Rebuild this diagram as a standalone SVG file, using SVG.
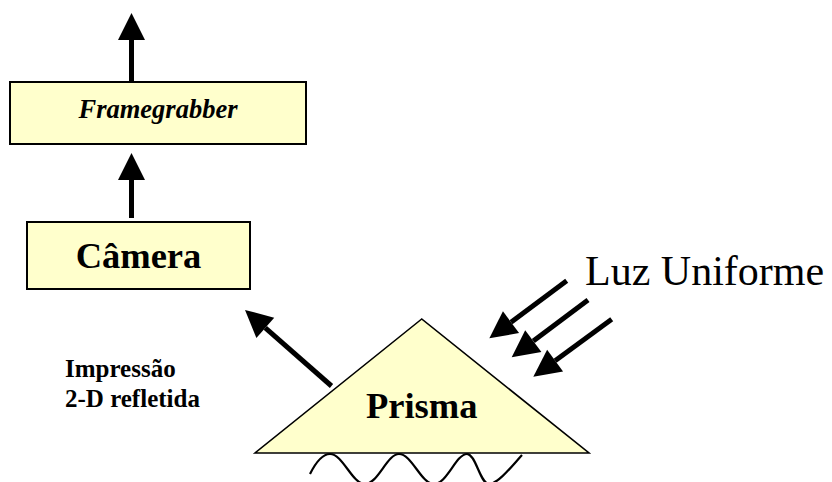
<svg xmlns="http://www.w3.org/2000/svg" width="832" height="482" viewBox="0 0 832 482">
  <defs>
    <marker id="head" markerUnits="userSpaceOnUse" markerWidth="28" markerHeight="28" refX="0" refY="13.5" orient="auto" overflow="visible">
      <path d="M0,0 L27,13.5 L0,27 z" fill="#000"/>
    </marker>
    <style>
      .box { fill: #FFFFCC; stroke: #000; stroke-width: 2; }
      .arrow { stroke: #000; stroke-width: 5; fill: none; marker-end: url(#head); }
      .serif { font-family: "Liberation Serif", "Times New Roman", serif; fill: #000; }
      .bold { font-weight: bold; }
    </style>
  </defs>
  <rect width="832" height="482" fill="#fff"/>

  <!-- connectors -->
  <g id="connectors">
    <line class="arrow" x1="131.5" y1="82" x2="131.5" y2="40"/>
    <line class="arrow" x1="131.5" y1="218" x2="131.5" y2="180"/>
    <line class="arrow" x1="331.5" y1="386" x2="265.3" y2="327.8"/>
    <line class="arrow" x1="566.7" y1="280.7" x2="511" y2="322.2"/>
    <line class="arrow" x1="588" y1="300" x2="533.3" y2="341.1"/>
    <line class="arrow" x1="611.7" y1="319.3" x2="555.1" y2="360.7"/>
  </g>

  <g id="framegrabber">
    <rect class="box" x="10" y="82" width="296" height="62"/>
    <text class="serif bold" x="158" y="117.5" font-size="26.5" font-style="italic" text-anchor="middle">Framegrabber</text>
  </g>

  <g id="camera">
    <rect class="box" x="27" y="222" width="223" height="67"/>
    <text class="serif bold" x="138.5" y="268.3" font-size="36.5" text-anchor="middle">Câmera</text>
  </g>

  <g id="prisma">
    <polygon points="421.7,319 255,453 589,453" fill="#FFFFCC" stroke="#000" stroke-width="1.6" stroke-linejoin="miter"/>
    <text class="serif bold" x="421.7" y="418.3" font-size="36.5" text-anchor="middle">Prisma</text>
  </g>

  <!-- finger ridges below the prism face -->
  <g id="ridges">
    <path d="M310,474 C316,462 322,454 330,454 C343,454 352,484 365,484 C378,484 387,454 399,454 C412,454 421,484 434,484 C447,484 456,454 467,454 C476,454 480,484 489,484 C498,484 512,466 522,455" fill="none" stroke="#000" stroke-width="2.2"/>
  </g>

  <g id="luz">
    <text class="serif" x="585" y="285" font-size="42">Luz Uniforme</text>
  </g>

  <g id="impressao">
    <text class="serif bold" x="65" y="376.5" font-size="25">Impressão</text>
    <text class="serif bold" x="65" y="406.5" font-size="25">2-D refletida</text>
  </g>
</svg>
